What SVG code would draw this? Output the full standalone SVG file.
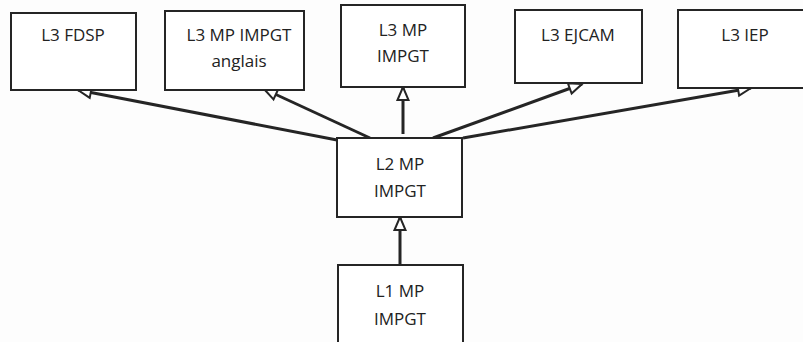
<svg xmlns="http://www.w3.org/2000/svg" width="803" height="342" viewBox="0 0 803 342">
<style>
.box{fill:#fff;stroke:#252525;stroke-width:2}
.t{font-family:"Open Sans","Liberation Sans",sans-serif;font-size:17px;fill:#222;text-anchor:middle}
.c{stroke:#252525;stroke-width:3;fill:none;marker-end:url(#ah)}
</style>
<defs>
<marker id="ah" markerUnits="userSpaceOnUse" markerWidth="18" markerHeight="16" viewBox="0 0 18 16" refX="15" refY="8" orient="auto">
<path d="M2,2.5 L15,8 L2,13.5 Z" fill="#fff" stroke="#252525" stroke-width="2"/>
</marker>
</defs>
<rect width="803" height="342" fill="#fdfdfd"/>
<g id="connectors">
<line class="c" x1="337" y1="140" x2="78" y2="90"/>
<line class="c" x1="370" y1="138" x2="264" y2="89"/>
<line class="c" x1="403" y1="134" x2="403" y2="87"/>
<line class="c" x1="433" y1="138" x2="582" y2="84"/>
<line class="c" x1="463" y1="138" x2="751" y2="88"/>
<line class="c" x1="400" y1="265" x2="400" y2="217"/>
</g>
<g id="n_fdsp"><rect class="box" x="11" y="13" width="125" height="77"/><text class="t" x="73" y="41">L3 FDSP</text></g>
<g id="n_anglais"><rect class="box" x="165" y="11" width="139" height="79"/><text class="t" x="239" y="41">L3 MP IMPGT</text><text class="t" x="239" y="67">anglais</text></g>
<g id="n_mp"><rect class="box" x="341" y="5" width="124" height="82"/><text class="t" x="403" y="36">L3 MP</text><text class="t" x="403" y="62">IMPGT</text></g>
<g id="n_ejcam"><rect class="box" x="515" y="10" width="127" height="73"/><text class="t" x="578" y="41">L3 EJCAM</text></g>
<g id="n_iep"><rect class="box" x="678" y="10" width="134" height="78"/><text class="t" x="745" y="41">L3 IEP</text></g>
<g id="n_l2"><rect class="box" x="337" y="138" width="125" height="79"/><text class="t" x="400" y="170">L2 MP</text><text class="t" x="400" y="197">IMPGT</text></g>
<g id="n_l1"><rect class="box" x="338" y="265" width="125" height="85"/><text class="t" x="400" y="297">L1 MP</text><text class="t" x="400" y="325">IMPGT</text></g>
</svg>
